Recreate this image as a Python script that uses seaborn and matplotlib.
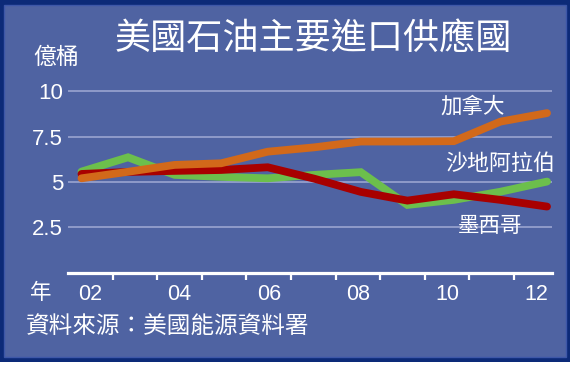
import pandas as pd
import seaborn as sns
import matplotlib.pyplot as plt
from matplotlib.patches import Rectangle

# datos (億桶)
years = [2002, 2003, 2004, 2005, 2006, 2007, 2008, 2009, 2010, 2011, 2012]
canada = [5.20, 5.56, 5.94, 6.03, 6.67, 6.91, 7.23, 7.23, 7.25, 8.33, 8.80]
saudi = [5.57, 6.36, 5.39, 5.28, 5.20, 5.39, 5.54, 3.73, 4.01, 4.46, 5.02]
mexico = [5.44, 5.55, 5.61, 5.66, 5.81, 5.18, 4.45, 3.97, 4.32, 4.01, 3.64]

series_names = ["加拿大", "沙地阿拉伯", "墨西哥"]
year_labels = ["02", "04", "06", "08", "10", "12"]
y_ticks = [2.5, 5, 7.5, 10]
y_labels = ["2.5", "5", "7.5", "10"]

df = pd.DataFrame({
    "year": years * 3,
    "value": canada + saudi + mexico,
    "country": [series_names[0]] * 11 + [series_names[1]] * 11 + [series_names[2]] * 11,
})

colores = {"加拿大": "#d2691a", "沙地阿拉伯": "#6cbf4c", "墨西哥": "#a80000"}
fondo = "#4f63a2"
marco = "#0c2a78"
cjk = ["Noto Sans CJK TC", "DejaVu Sans"]
num = ["Liberation Sans", "DejaVu Sans"]

sns.set_theme(style="white")
plt.rcParams["font.family"] = cjk

W, H = 572, 365
fig = plt.figure(figsize=(W / 100, H / 100), dpi=100, facecolor="white")

def px(x, y):
    return x / W, 1 - y / H

# marco y fondo
fig.patches.append(Rectangle((0, 3 / H), 570 / W, 362 / H, transform=fig.transFigure,
                             facecolor=marco, edgecolor="none", zorder=-10))
fig.patches.append(Rectangle((4 / W, 8 / H), 562 / W, 352 / H, transform=fig.transFigure,
                             facecolor=fondo, edgecolor="#3d57a8", linewidth=1, zorder=-9))

ax = fig.add_axes([68 / W, (H - 272.5) / H, 484 / W, 192 / H])
ax.set_facecolor("none")

sns.lineplot(
    data=df, x="year", y="value", hue="country", hue_order=[series_names[1], series_names[2], series_names[0]],
    palette=colores, linewidth=5.6, legend=False, sort=False, ax=ax,
    solid_capstyle="round", solid_joinstyle="miter",
)

ax.set_xlim(2001.71, 2012.107)
ax.set_ylim(0, 10.6)
ax.set_xlabel("")
ax.set_ylabel("")
ax.set_xticks([])
ax.set_yticks(y_ticks)
ax.set_yticklabels(y_labels, family=num, fontsize=16, color="white")
ax.tick_params(axis="y", length=0, pad=3.6)
ax.set_axisbelow(True)
ax.yaxis.grid(True, color="#9aa4d0", linewidth=1.2)
ax.xaxis.grid(False)
for s in ["left", "right", "top"]:
    ax.spines[s].set_visible(False)
ax.spines["bottom"].set_color("white")
ax.spines["bottom"].set_linewidth(2.3)

# eje de categorias (ticks entre años, etiquetas cada dos)
ax2 = ax.twiny()
ax2.set_xlim(0, 484 / 44.6)
ax2.xaxis.set_ticks_position("bottom")
ax2.xaxis.set_label_position("bottom")
ax2.set_xticks(range(1, 11))
ax2.set_xticklabels([])
ax2.set_xticks([0.5 + 2 * k for k in range(6)], minor=True)
ax2.set_xticklabels(year_labels, minor=True, family=num, fontsize=15.5, color="white")
ax2.tick_params(axis="x", which="major", length=5, width=1.6, color="white", direction="out")
ax2.tick_params(axis="x", which="minor", length=0, pad=8)
for s in ax2.spines.values():
    s.set_visible(False)
ax2.set_facecolor("none")

# textos
fig.text(*px(313, 39), "美國石油主要進口供應國", fontsize=26, color="white", ha="center", va="center")
fig.text(*px(56, 57), "億桶", fontsize=16.5, color="white", ha="center", va="center")
fig.text(*px(41, 293), "年", fontsize=15.5, color="white", ha="center", va="center")
fig.text(*px(26, 327), "資料來源：美國能源資料署", fontsize=17, color="white", ha="left", va="center")
fig.text(*px(473, 106.5), series_names[0], fontsize=15.5, color="white", ha="center", va="center")
fig.text(*px(500, 164), series_names[1], fontsize=15.8, color="white", ha="center", va="center")
fig.text(*px(490, 226), series_names[2], fontsize=15.5, color="white", ha="center", va="center")

plt.savefig("out.png", dpi=100, facecolor=fig.get_facecolor())
plt.close()
print("Gráfico guardado como out.png")
